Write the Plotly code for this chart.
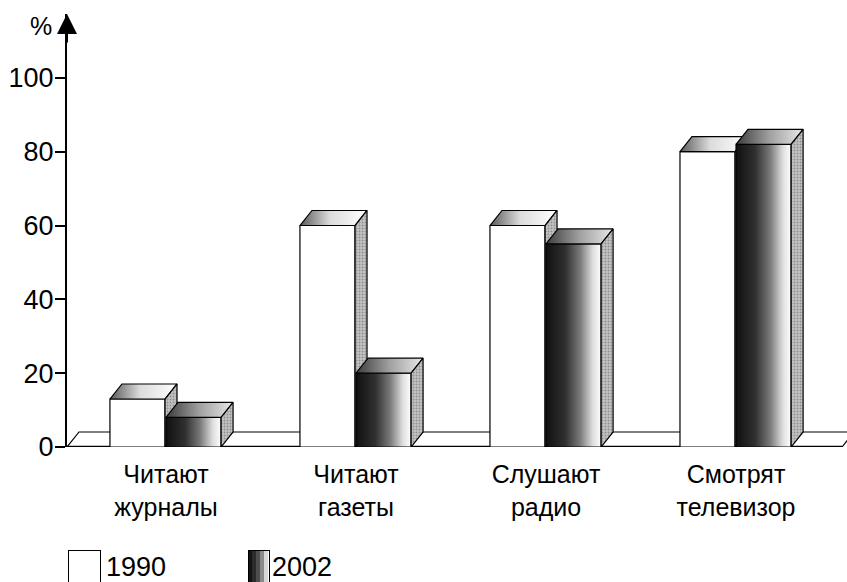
import plotly.graph_objects as go

# ---- data ----
categories = ["Читают<br>журналы", "Читают<br>газеты", "Слушают<br>радио", "Смотрят<br>телевизор"]
series_names = ["1990", "2002"]
values_1990 = [13, 60, 60, 80]
values_2002 = [8, 20, 55, 82]
y_ticks = [0, 20, 40, 60, 80, 100]

# ---- geometry / style (in axis units) ----
BAR_W = 0.29
DX = 0.063
DY = 4.07
X_MIN = -0.521
X_MAX = 3.584
Y_MAX = 117.3
FLOOR_END = 3.558
FONT = "Liberation Sans, Arial, sans-serif"
EDGE = dict(color="black", width=1.2)

fig = go.Figure()

# floor slab
fx = [X_MIN, FLOOR_END, FLOOR_END + DX, X_MIN + DX, X_MIN]
fy = [0, 0, DY, DY, 0]
fig.add_trace(go.Scatter(x=fx, y=fy, mode="lines", fill="toself", fillcolor="white",
                         line=EDGE, showlegend=False, hoverinfo="skip"))
fig.add_trace(go.Scatter(x=[X_MIN, FLOOR_END], y=[0, 0], mode="lines",
                         line=dict(color="black", width=2.5), showlegend=False, hoverinfo="skip"))


def add_box(x0, h, name, front_style, top_grad):
    x1 = x0 + BAR_W
    # front face
    fig.add_trace(go.Scatter(
        x=[x0, x1, x1, x0, x0], y=[0, 0, h, h, 0], mode="lines", fill="toself",
        line=EDGE, name=name, showlegend=False, hoverinfo="skip", **front_style))
    # top face
    fig.add_trace(go.Scatter(
        x=[x0, x1, x1 + DX, x0 + DX, x0], y=[h, h, h + DY, h + DY, h], mode="lines",
        fill="toself", line=EDGE, showlegend=False, hoverinfo="skip",
        fillgradient=dict(type="horizontal", colorscale=top_grad)))
    # side face
    fig.add_trace(go.Scatter(
        x=[x1, x1 + DX, x1 + DX, x1, x1], y=[0, DY, h + DY, h, 0], mode="lines",
        fill="toself", line=EDGE, showlegend=False, hoverinfo="skip",
        fillcolor="#bdbdbd",
        fillpattern=dict(shape=".", bgcolor="#c4c4c4", fgcolor="#5a5a5a", size=3, solidity=0.35)))


front_1990 = dict(fillcolor="white")
front_2002 = dict(fillgradient=dict(type="horizontal",
                                    colorscale=[[0, "#101010"], [0.35, "#303030"], [0.62, "#7a7a7a"],
                                                [0.85, "#dedede"], [1, "#ffffff"]]))
top_1990 = [[0, "#5a5a5a"], [0.45, "#dcdcdc"], [1, "#ffffff"]]
top_2002 = [[0, "#3c3c3c"], [0.5, "#a0a0a0"], [1, "#e8e8e8"]]

for i, (v90, v02) in enumerate(zip(values_1990, values_2002)):
    add_box(i - BAR_W - 0.005, v90, series_names[0], front_1990, top_1990)
    add_box(i, v02, series_names[1], front_2002, top_2002)

# legend key (boxes + labels) drawn as annotations below the plot
legend_ann = [
    dict(xref="paper", yref="paper", x=0.001, y=-0.237, xanchor="left", yanchor="top",
         text="", width=31, height=34, bgcolor="white", bordercolor="black", borderwidth=1,
         borderpad=0, showarrow=False),
    dict(xref="paper", yref="paper", x=0.047, y=-0.239, xanchor="left", yanchor="top",
         text=series_names[0], showarrow=False, font=dict(size=27, family=FONT)),
]
swatch = ["#141414", "#2c2c2c", "#4e4e4e", "#8a8a8a", "#d6d6d6"]
for k, c in enumerate(swatch):
    legend_ann.append(dict(xref="paper", yref="paper", x=0.232 + k * 0.00513, y=-0.237,
                           xanchor="left", yanchor="top", text="", width=4, height=34,
                           bgcolor=c, borderwidth=0, borderpad=0, showarrow=False))
legend_ann += [
    dict(xref="paper", yref="paper", x=0.232, y=-0.237, xanchor="left", yanchor="top",
         text="", width=20, height=34, bgcolor="rgba(0,0,0,0)", bordercolor="black",
         borderwidth=1, borderpad=0, showarrow=False),
    dict(xref="paper", yref="paper", x=0.260, y=-0.239, xanchor="left", yanchor="top",
         text=series_names[1], showarrow=False, font=dict(size=27, family=FONT)),
]

fig.update_layout(
    width=847, height=582,
    margin=dict(l=67, r=0, t=14, b=135, autoexpand=False),
    paper_bgcolor="white", plot_bgcolor="white",
    font=dict(family=FONT, color="black"),
    showlegend=False,
    xaxis=dict(range=[X_MIN, X_MAX], tickvals=[0, 1, 2, 3], ticktext=categories,
               showgrid=False, zeroline=False, showline=False, ticks="", automargin=False,
               tickfont=dict(size=25, family=FONT), ticklabelstandoff=10, fixedrange=True),
    yaxis=dict(range=[0, Y_MAX], tickvals=y_ticks, showgrid=False, zeroline=False,
               showline=True, linecolor="black", linewidth=2, automargin=False,
               ticks="outside", ticklen=10, tickwidth=2, tickcolor="black",
               tickfont=dict(size=27, family=FONT), ticklabelstandoff=-4, fixedrange=True),
    annotations=[
        dict(xref="paper", yref="paper", x=0, y=1, ax=0, ay=30, text="", showarrow=True,
             arrowhead=2, arrowsize=2, arrowwidth=2, arrowcolor="black"),
        dict(xref="paper", yref="paper", x=0, y=1, xanchor="right", yanchor="top",
             xshift=-13, yshift=4, text="%", showarrow=False, font=dict(size=25, family=FONT)),
    ] + legend_ann,
)

fig.write_html("out.html", config={"displayModeBar": False},
               post_script="document.body.style.margin='0';document.body.style.padding='0';")
